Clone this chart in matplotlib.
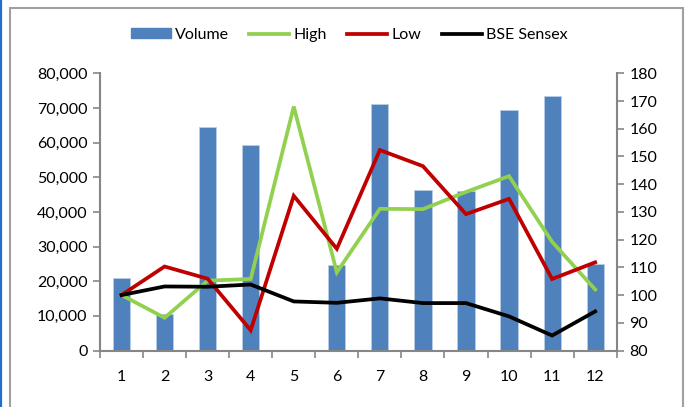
#!/usr/bin/env python3
"""
Monthly volume (bars) against High / Low / BSE Sensex index lines,
two y axes: volume on the left, indexed price on the right.
"""

import matplotlib.pyplot as plt
from matplotlib.patches import Patch, Rectangle
from matplotlib.lines import Line2D
from matplotlib.ticker import FuncFormatter

plt.rcParams['font.family'] = ['Lato', 'DejaVu Sans']

months = [1, 2, 3, 4, 5, 6, 7, 8, 9, 10, 11, 12]
volume = [21000, 10600, 64500, 59400, 0, 24700, 71000, 46200, 46100, 69300, 73500, 24900]
high = [100, 91.8, 105.2, 105.8, 168.0, 108.2, 131.1, 131.0, 137.2, 142.9, 119.2, 102.0]
low = [100, 110.3, 105.9, 87.3, 135.8, 116.7, 152.3, 146.5, 129.2, 134.7, 105.8, 111.8]
sensex = [100, 103.1, 103.0, 103.8, 97.7, 97.2, 98.8, 97.1, 97.1, 92.3, 85.4, 94.1]

BLUE = '#4F81BD'
GREEN = '#92D050'
RED = '#C00000'
GRAY = '#868686'
W, H = 686, 407


def main():
	fig = plt.figure(figsize=(W / 100, H / 100), dpi=100)

	# plot area in pixel terms
	left, right, top, bottom = 100, 616.7, 73.3, 350.5
	ax = fig.add_axes([left / W, (H - bottom) / H, (right - left) / W, (bottom - top) / H])
	ax2 = ax.twinx()

	ax.bar(months, volume, width=0.4, color=BLUE, edgecolor='#B9CDE5', linewidth=0.6, zorder=2)
	ax.set_ylim(0, 80000)
	ax.set_yticks(range(0, 80001, 10000))
	ax.yaxis.set_major_formatter(FuncFormatter(lambda v, p: f"{int(v):,}"))

	lw = 2.7
	ax2.plot(months, high, color=GREEN, lw=lw, solid_joinstyle='miter')
	ax2.plot(months, low, color=RED, lw=lw, solid_joinstyle='miter')
	ax2.plot(months, sensex, color='black', lw=lw, solid_joinstyle='miter')
	ax2.set_ylim(80, 180)
	ax2.set_yticks(range(80, 181, 10))

	# category axis: ticks on the boundaries, labels at the centres
	ax.set_xlim(0.5, 12.5)
	ax.set_xticks([m + 0.5 for m in [0] + months])
	ax.set_xticklabels([])
	ax.set_xticks(months, minor=True)
	ax.set_xticklabels([str(m) for m in months], minor=True)
	ax.tick_params(axis='x', which='minor', length=0, pad=14, labelsize=11.5)
	ax.tick_params(axis='x', which='major', length=5, width=1.2, color=GRAY)

	ax.tick_params(axis='y', length=5, width=1.2, color=GRAY, labelsize=11.5, pad=4)
	ax2.tick_params(axis='y', length=5, width=1.2, color=GRAY, labelsize=11.5, pad=4)

	for a in (ax, ax2):
		a.spines['top'].set_visible(False)
		for s in ('left', 'right', 'bottom'):
			a.spines[s].set_color(GRAY)
			a.spines[s].set_linewidth(1.5)
	ax.spines['right'].set_visible(False)
	ax2.spines['left'].set_visible(False)
	ax2.spines['bottom'].set_visible(False)

	handles = [
		Patch(facecolor=BLUE, edgecolor=BLUE),
		Line2D([], [], color=GREEN, lw=lw),
		Line2D([], [], color=RED, lw=lw),
		Line2D([], [], color='black', lw=lw),
	]
	fig.legend(handles, ['Volume', 'High', 'Low', 'BSE Sensex'], loc='center',
			   bbox_to_anchor=(349 / W, 1 - 35 / H), ncol=4, frameon=False,
			   fontsize=11.5, handlelength=2.5, handleheight=0.6,
			   handletextpad=0.25, columnspacing=1.3, borderaxespad=0)

	# chart frame and the blue edge on the left
	fig.patches.append(Rectangle((9.5 / W, -0.05), (683 - 9.5) / W, 1.05 - 7.5 / H,
								 transform=fig.transFigure, fill=False,
								 edgecolor='#A0A0A0', linewidth=1.5))
	fig.lines.append(Line2D([0.8 / W, 0.8 / W], [0, 1], transform=fig.transFigure,
							color='#1F6FD0', linewidth=1.6))

	fig.savefig('out.png', dpi=100)
	plt.close(fig)


if __name__ == "__main__":
	main()
